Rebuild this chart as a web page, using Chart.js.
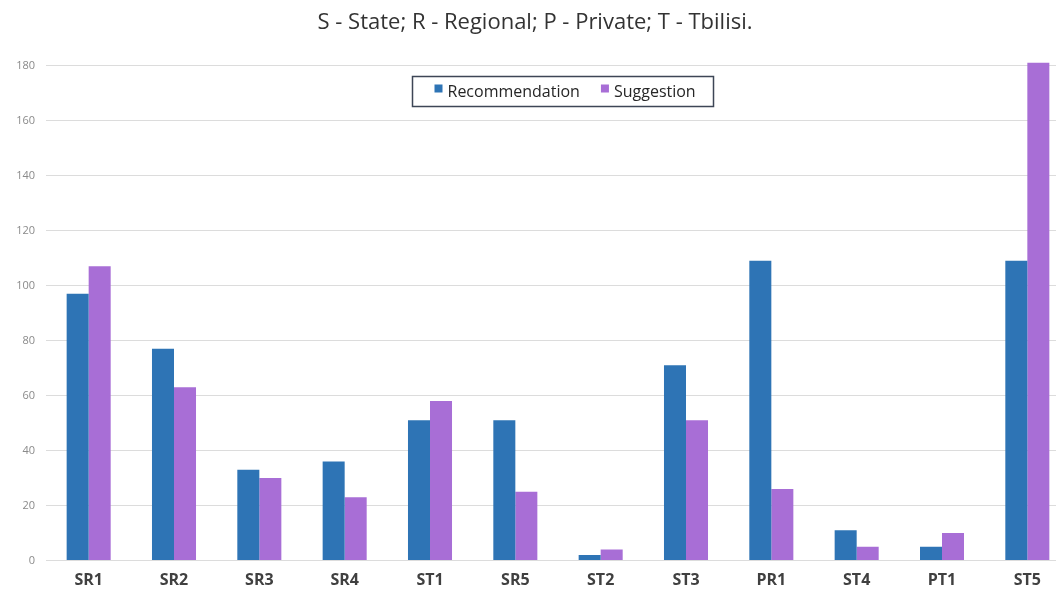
<!DOCTYPE html>
<html>
<head>
<meta charset="utf-8">
<script src="https://cdn.jsdelivr.net/npm/chart.js@4/dist/chart.umd.min.js"></script>
<style>
  html, body { margin: 0; padding: 0; background: #fff; overflow: hidden; }
  #wrap { width: 1070px; height: 589px; }
</style>
</head>
<body>
<div id="wrap"><canvas id="c" width="1070" height="589"></canvas></div>
<script>
// Institutions: S - State, R - Regional, P - Private, T - Tbilisi
const categories = ['SR1', 'SR2', 'SR3', 'SR4', 'ST1', 'SR5', 'ST2', 'ST3', 'PR1', 'ST4', 'PT1', 'ST5'];
const recommendation = [97, 77, 33, 36, 51, 51, 2, 71, 109, 11, 5, 109];
const suggestion = [107, 63, 30, 23, 58, 25, 4, 51, 26, 5, 10, 181];
const yTicks = [0, 20, 40, 60, 80, 100, 120, 140, 160, 180];

const BLUE = '#2E74B5';
const PURPLE = '#A86ED6';

// Boxed legend drawn inside the plot, below the top gridline
const boxedLegend = {
  id: 'boxedLegend',
  afterDraw(chart, args, opts) {
    const ctx = chart.ctx;
    ctx.save();
    ctx.strokeStyle = opts.borderColor;
    ctx.lineWidth = opts.borderWidth;
    ctx.fillStyle = '#fff';
    ctx.fillRect(opts.left, opts.top, opts.width, opts.height);
    ctx.strokeRect(opts.left, opts.top, opts.width, opts.height);
    ctx.font = opts.font;
    ctx.textBaseline = 'middle';
    const cy = opts.top + opts.height / 2;
    let x = opts.left + opts.padLeft;
    chart.data.datasets.forEach((ds) => {
      ctx.fillStyle = ds.backgroundColor;
      ctx.fillRect(x, cy - 7, opts.box, opts.box);
      x += opts.box + opts.gapText;
      ctx.fillStyle = opts.color;
      ctx.fillText(ds.label, x, cy + 1);
      x += ctx.measureText(ds.label).width + opts.gapItem;
    });
    ctx.restore();
  }
};

new Chart(document.getElementById('c'), {
  type: 'bar',
  data: {
    labels: categories,
    datasets: [
      { label: 'Recommendation', data: recommendation, backgroundColor: BLUE, clip: false },
      { label: 'Suggestion', data: suggestion, backgroundColor: PURPLE, clip: false }
    ]
  },
  options: {
    responsive: false,
    animation: false,
    events: [],
    layout: { padding: { left: 0, right: 0, top: 0, bottom: 0 } },
    datasets: { bar: { categoryPercentage: 0.516, barPercentage: 1.0, borderWidth: 0 } },
    plugins: {
      legend: { display: false },
      tooltip: { enabled: false },
      title: {
        display: true,
        text: 'S - State; R - Regional; P - Private; T - Tbilisi.',
        color: '#333333',
        font: { family: 'Open Sans', size: 22, weight: 'normal', lineHeight: 1.2 },
        padding: { top: 10, bottom: 29.1 }
      },
      boxedLegend: {
        left: 412.5, top: 76.5, width: 301, height: 30,
        padLeft: 22, box: 8, gapText: 5, gapItem: 21,
        borderColor: '#3d4656', borderWidth: 1.5,
        font: '16px "Open Sans"', color: '#262626'
      }
    },
    scales: {
      x: {
        grid: { display: false, drawTicks: false },
        border: { display: false },
        ticks: {
          color: '#404040',
          font: { family: 'Open Sans', size: 16, weight: 'bold' },
          padding: 10
        },
        afterFit(scale) { scale.height = 28.5; }
      },
      y: {
        min: 0, max: 180,
        afterBuildTicks(scale) { scale.ticks = yTicks.map(v => ({ value: v })); },
        grid: { color: '#dcdcdc', lineWidth: 1, drawTicks: false },
        border: { display: false },
        ticks: {
          color: '#8a8a8a',
          font: { family: 'Open Sans', size: 11 },
          padding: 11
        },
        afterFit(scale) { scale.width = 46; }
      }
    }
  },
  plugins: [boxedLegend]
});
</script>
</body>
</html>
